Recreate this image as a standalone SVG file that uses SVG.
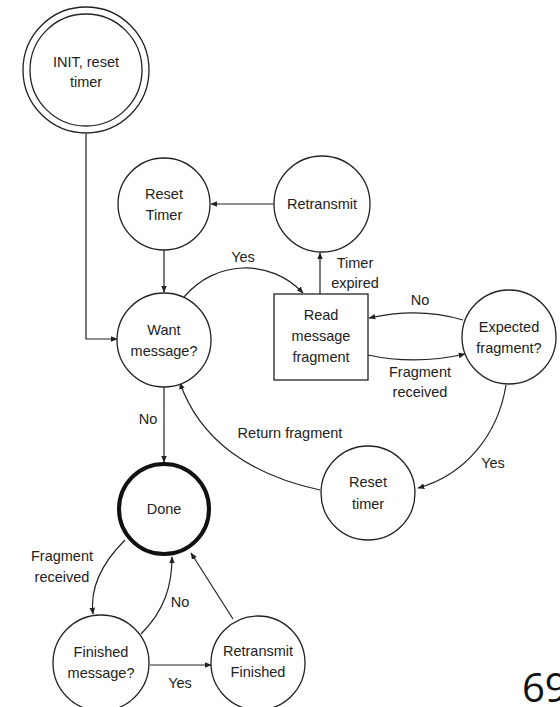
<svg xmlns="http://www.w3.org/2000/svg" width="560" height="707" viewBox="0 0 560 707">
<defs>
<marker id="ah" viewBox="0 0 10 10" refX="9" refY="5" markerWidth="7" markerHeight="7" orient="auto" markerUnits="userSpaceOnUse">
<path d="M0,1 L10,5 L0,9 z" fill="#222"/>
</marker>
<style>
.n{fill:#fff;stroke:#222;stroke-width:1.3}
.t{font-family:"Liberation Sans",Arial,sans-serif;font-size:14.5px;fill:#222;text-anchor:middle}
.l{font-family:"Liberation Sans",Arial,sans-serif;font-size:14.5px;fill:#222;text-anchor:middle}
.c{fill:none;stroke:#222;stroke-width:1.2;marker-end:url(#ah)}
</style>
</defs>
<rect width="560" height="707" fill="#fff"/>
<g id="connectors">
<path class="c" d="M86,134 L86,339 L117,339"/>
<path class="c" d="M274,204 L211,204"/>
<path class="c" d="M164,250 L164,292"/>
<path class="c" d="M184,297 C215,260 270,258 303,293"/>
<path class="c" d="M320,294 L320,253"/>
<path class="c" d="M463,320 C430,310 400,311 369,318"/>
<path class="c" d="M368,355 C400,362 430,362 465,354"/>
<path class="c" d="M506,385 C498,435 465,475 418,488"/>
<path class="c" d="M320,490 C250,475 200,440 180,383"/>
<path class="c" d="M164,387 L164,462"/>
<path class="c" d="M125,540 C100,565 90,590 93,614"/>
<path class="c" d="M141,634 C165,610 172,585 172,557"/>
<path class="c" d="M233,619 L191,553"/>
<path class="c" d="M150,665 L211,665"/>
</g>
<g id="labels">
<text class="l" x="243" y="262">Yes</text>
<text class="l" x="355" y="268">Timer</text>
<text class="l" x="355" y="288">expired</text>
<text class="l" x="420" y="305">No</text>
<text class="l" x="420" y="377">Fragment</text>
<text class="l" x="420" y="397">received</text>
<text class="l" x="493" y="468">Yes</text>
<text class="l" x="290" y="438">Return fragment</text>
<text class="l" x="148" y="424">No</text>
<text class="l" x="62" y="561">Fragment</text>
<text class="l" x="62" y="582">received</text>
<text class="l" x="180" y="607">No</text>
<text class="l" x="180" y="688">Yes</text>
</g>
<g id="init">
<circle class="n" cx="86" cy="70" r="63"/>
<circle class="n" cx="86" cy="70" r="56"/>
<text class="t" x="86" y="67">INIT, reset</text>
<text class="t" x="86" y="87">timer</text>
</g>
<g id="reset-timer-top">
<circle class="n" cx="164" cy="204" r="46"/>
<text class="t" x="164" y="199">Reset</text>
<text class="t" x="164" y="220">Timer</text>
</g>
<g id="retransmit">
<circle class="n" cx="322" cy="204" r="48"/>
<text class="t" x="322" y="209">Retransmit</text>
</g>
<g id="want-message">
<circle class="n" cx="164" cy="340" r="47"/>
<text class="t" x="164" y="335">Want</text>
<text class="t" x="164" y="356">message?</text>
</g>
<g id="read-fragment">
<rect class="n" x="274" y="294" width="94" height="86"/>
<text class="t" x="321" y="320">Read</text>
<text class="t" x="321" y="341">message</text>
<text class="t" x="321" y="362">fragment</text>
</g>
<g id="expected-fragment">
<circle class="n" cx="509" cy="337" r="47"/>
<text class="t" x="509" y="332">Expected</text>
<text class="t" x="509" y="353">fragment?</text>
</g>
<g id="reset-timer-bottom">
<circle class="n" cx="368" cy="493" r="47"/>
<text class="t" x="368" y="487">Reset</text>
<text class="t" x="368" y="509">timer</text>
</g>
<g id="done">
<circle cx="164" cy="509" r="45" fill="#fff" stroke="#111" stroke-width="4"/>
<text class="t" x="164" y="514">Done</text>
</g>
<g id="finished-message">
<circle class="n" cx="101" cy="663" r="48"/>
<text class="t" x="101" y="657">Finished</text>
<text class="t" x="101" y="678">message?</text>
</g>
<g id="retransmit-finished">
<circle class="n" cx="258" cy="663" r="47"/>
<text class="t" x="258" y="656">Retransmit</text>
<text class="t" x="258" y="677">Finished</text>
</g>
<text x="522" y="702" font-family="'Open Sans',sans-serif" font-size="40" fill="#111">69</text>
</svg>
